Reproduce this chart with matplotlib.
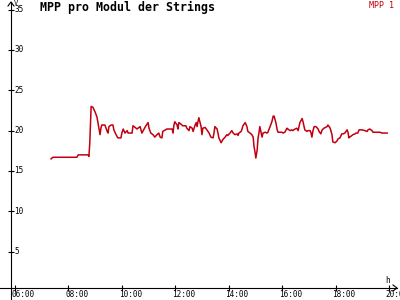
import matplotlib
matplotlib.use("Agg")
import matplotlib.pyplot as plt

# Data
times = ["07:21", "07:25", "08:19", "08:22", "08:44", "08:46", "08:48", "08:51", "08:55", "09:00",
         "09:04", "09:06", "09:11", "09:13", "09:15", "09:22", "09:27", "09:29", "09:31", "09:36",
         "09:40", "09:42", "09:47", "09:51", "09:58", "10:00", "10:03", "10:07", "10:12", "10:14",
         "10:23", "10:25", "10:30", "10:34", "10:41", "10:45", "10:50", "10:54", "10:59", "11:01",
         "11:05", "11:10", "11:14", "11:19", "11:23", "11:26", "11:30", "11:32", "11:41", "11:48",
         "11:53", "11:55", "11:57", "11:59", "12:04", "12:06", "12:08", "12:13", "12:17", "12:24",
         "12:26", "12:31", "12:33", "12:38", "12:40", "12:44", "12:47", "12:49", "12:51", "12:53",
         "12:58", "13:00", "13:02", "13:07", "13:11", "13:16", "13:20", "13:25", "13:27", "13:29",
         "13:34", "13:36", "13:38", "13:43", "13:47", "13:52", "13:56", "13:58", "14:03", "14:07",
         "14:10", "14:14", "14:19", "14:21", "14:23", "14:28", "14:30", "14:32", "14:37", "14:41",
         "14:43", "14:48", "14:52", "14:55", "14:57", "14:59", "15:01", "15:04", "15:06", "15:08",
         "15:10", "15:15", "15:17", "15:22", "15:26", "15:28", "15:33", "15:37", "15:40", "15:42",
         "15:46", "15:49", "15:51", "16:00", "16:02", "16:06", "16:11", "16:13", "16:18", "16:22",
         "16:24", "16:29", "16:33", "16:36", "16:40", "16:45", "16:47", "16:51", "16:56", "16:58",
         "17:03", "17:05", "17:07", "17:09", "17:12", "17:16", "17:21", "17:23", "17:27", "17:30",
         "17:34", "17:41", "17:43", "17:48", "17:52", "17:54", "17:59", "18:03", "18:06", "18:10",
         "18:14", "18:17", "18:21", "18:26", "18:28", "18:30", "18:32", "18:37", "18:39", "18:44",
         "18:46", "18:50", "18:53", "18:59", "19:06", "19:11", "19:13", "19:17", "19:22", "19:24",
         "19:35", "19:40", "19:44", "19:51", "19:56"]
mpp1 = [16.5, 16.7, 16.7, 17.0, 17.0, 16.8, 18.5, 23.0, 22.9, 22.3,
        21.7, 21.1, 19.5, 20.3, 20.7, 20.7, 19.9, 19.7, 20.5, 20.7,
        20.7, 20.1, 19.5, 19.1, 19.1, 19.7, 20.2, 19.7, 20.0, 19.7,
        19.7, 20.6, 20.4, 20.2, 20.5, 19.7, 20.2, 20.6, 21.0, 20.3,
        19.7, 19.5, 19.2, 19.5, 19.7, 19.2, 19.1, 19.9, 20.2, 20.2,
        20.2, 19.7, 20.7, 21.1, 20.7, 20.2, 21.0, 20.8, 20.6, 20.6,
        20.3, 20.0, 20.5, 20.3, 19.9, 20.6, 21.0, 20.5, 21.1, 21.6,
        20.5, 19.5, 20.3, 20.4, 20.1, 19.7, 19.2, 19.1, 19.7, 20.5,
        20.2, 19.7, 19.1, 18.5, 18.9, 19.2, 19.5, 19.4, 19.7, 20.0,
        19.7, 19.5, 19.6, 19.4, 19.7, 19.9, 20.2, 20.6, 21.0, 20.5,
        19.9, 19.7, 19.5, 19.2, 18.0, 17.4, 16.6, 17.6, 19.1, 19.7,
        20.5, 19.2, 19.7, 19.8, 19.7, 19.8, 20.5, 21.1, 21.8, 21.8,
        21.0, 20.1, 19.8, 19.8, 19.7, 19.8, 20.3, 20.2, 20.0, 20.1,
        20.0, 20.2, 20.3, 20.0, 21.0, 21.5, 21.1, 20.1, 19.9, 20.0,
        20.0, 19.7, 19.2, 19.9, 20.5, 20.5, 20.2, 19.9, 19.6, 20.1,
        20.3, 20.5, 20.7, 20.3, 19.5, 18.6, 18.5, 18.7, 19.0, 19.1,
        19.6, 19.6, 19.7, 20.1, 19.8, 19.1, 19.2, 19.4, 19.5, 19.6,
        19.7, 19.7, 20.1, 20.1, 20.0, 19.9, 20.1, 20.2, 20.0, 19.8,
        19.8, 19.8, 19.7, 19.7, 19.7]
xticks = [6, 8, 10, 12, 14, 16, 18, 20]
xlabels = ["06:00", "08:00", "10:00", "12:00", "14:00", "16:00", "18:00", "20:00"]
yticks = [5, 10, 15, 20, 25, 30, 35]

hours = [int(t[:2]) + int(t[3:]) / 60 for t in times]

red = "#c00010"
mono = "DejaVu Sans Mono"

fig = plt.figure(figsize=(4, 3), dpi=100)
ax = fig.add_axes([11 / 400, 12 / 300, 386 / 400, 286 / 300])
ax.plot(hours, mpp1, color=red, lw=1.1)
ax.set_xlim(5.850, 20.302)
ax.set_ylim(0.5, 35.94)

for s in ["top", "right"]:
    ax.spines[s].set_visible(False)
for s in ["left", "bottom"]:
    ax.spines[s].set_linewidth(0.8)

ax.set_xticks(xticks)
ax.set_yticks(yticks)
ax.tick_params(direction="inout", length=4.3, width=0.8,
               labelbottom=False, labelleft=False)

# axis extensions and arrows
k = dict(transform=ax.transAxes, clip_on=False, color="black", lw=0.8)
ax.plot([-11 / 386, 0], [0, 0], **k)
ax.plot([0, 0], [-12 / 286, 0], **k)
ax.plot([-3 / 386, 0, 3 / 386], [1 - 4 / 286, 1, 1 - 4 / 286], **k)
ax.plot([1 - 4 / 386, 1, 1 - 4 / 386], [3 / 286, 0, -3 / 286], **k)

# tick labels
for v in yticks:
    ax.annotate(str(v), (0, v), xycoords=ax.get_yaxis_transform(),
                xytext=(2.3, 0), textcoords="offset points",
                ha="left", va="center", fontsize=5.5, family=mono)
for v, lab in zip(xticks, xlabels):
    ax.annotate(lab, (v, 0), xycoords=ax.get_xaxis_transform(),
                xytext=(-2.2, -6.8), textcoords="offset points",
                ha="left", va="baseline", fontsize=5.5, family=mono,
                annotation_clip=False)

fig.text(13.5 / 400, 1.0, "V", ha="left", va="top", fontsize=5, family=mono)
fig.text(385 / 400, 1 - 280.5 / 300, "h", ha="left", va="center", fontsize=5.5, family=mono)
fig.text(40 / 400, 1 - 7.5 / 300, "MPP pro Modul der Strings", ha="left", va="center",
         fontsize=8.4, fontweight="bold", family=mono)
fig.text(394 / 400, 1 - 6 / 300, "MPP 1", ha="right", va="center",
         fontsize=6, color=red, family=mono)

fig.savefig("out.png", dpi=100)
